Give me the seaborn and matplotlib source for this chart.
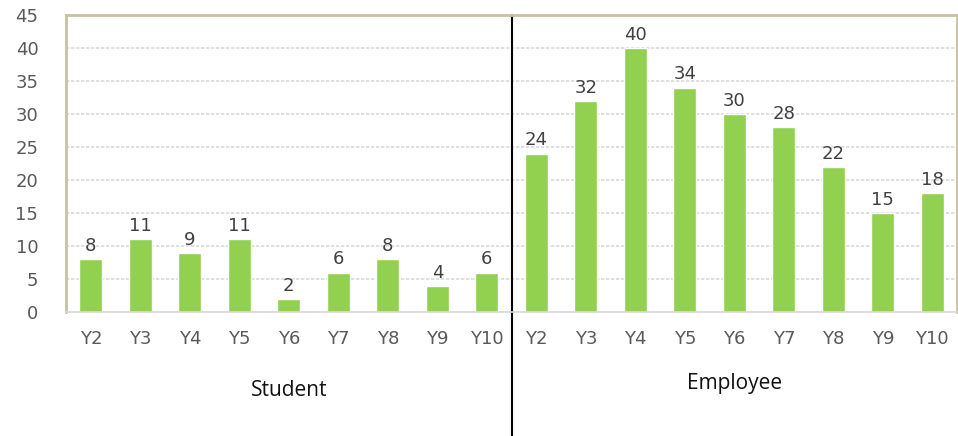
"""
Student vs Employee counts by year
"""
import matplotlib
matplotlib.use("Agg")
import matplotlib.pyplot as plt
import pandas as pd
import seaborn as sns

years = ["Y2", "Y3", "Y4", "Y5", "Y6", "Y7", "Y8", "Y9", "Y10"]
groups = ["Student", "Employee"]
student_vals = [8, 11, 9, 11, 2, 6, 8, 4, 6]
employee_vals = [24, 32, 40, 34, 30, 28, 22, 15, 18]

df = pd.DataFrame({
    "group": [groups[0]] * len(years) + [groups[1]] * len(years),
    "year": years + years,
    "value": student_vals + employee_vals,
})
df["key"] = df["group"] + "-" + df["year"]

sns.set_style("white")
plt.rcParams["font.family"] = ["DejaVu Sans"]
fig = plt.figure(figsize=(9.58, 4.36), dpi=100)
ax = fig.add_axes([0.069, 0.284, 0.930, 0.682])

sns.barplot(data=df, x="key", y="value", order=list(df["key"]), color="#92d050",
            saturation=1, width=0.46, ax=ax)

ax.set_ylim(0, 45)
ax.set_yticks(range(0, 46, 5))
ax.set_xlim(-0.5, len(df) - 0.5)
ax.set_xticks(range(len(df)))
ax.set_xticklabels(df["year"])
ax.set_xlabel("")
ax.set_ylabel("")
ax.tick_params(axis="both", length=0, labelsize=13, labelcolor="#595959")
ax.tick_params(axis="x", pad=13)
ax.tick_params(axis="y", pad=20)

ax.yaxis.grid(True, color="#d9d9d9", linestyle=(0, (2, 1)), linewidth=1.2)
ax.set_axisbelow(True)
for side in ["left", "top", "right"]:
    ax.spines[side].set_color("#c9c2a0")
    ax.spines[side].set_linewidth(2)
ax.spines["bottom"].set_color("#d9d9d9")
ax.spines["bottom"].set_linewidth(1.2)

for c in ax.containers:
    ax.bar_label(c, fmt="%d", padding=3, fontsize=13, color="#404040")

# separator between the two groups
ax.axvline(8.5, ymin=-0.45, ymax=1, color="black", linewidth=1.5, clip_on=False)

n = len(years)
for i, g in enumerate(groups):
    xc = i * n + (n - 1) / 2
    ax.text(xc, -11.8 + i * 1.0, g, ha="center", va="center", fontsize=15,
            family="Open Sans", color="#111111")

fig.savefig("out.png", dpi=100)
